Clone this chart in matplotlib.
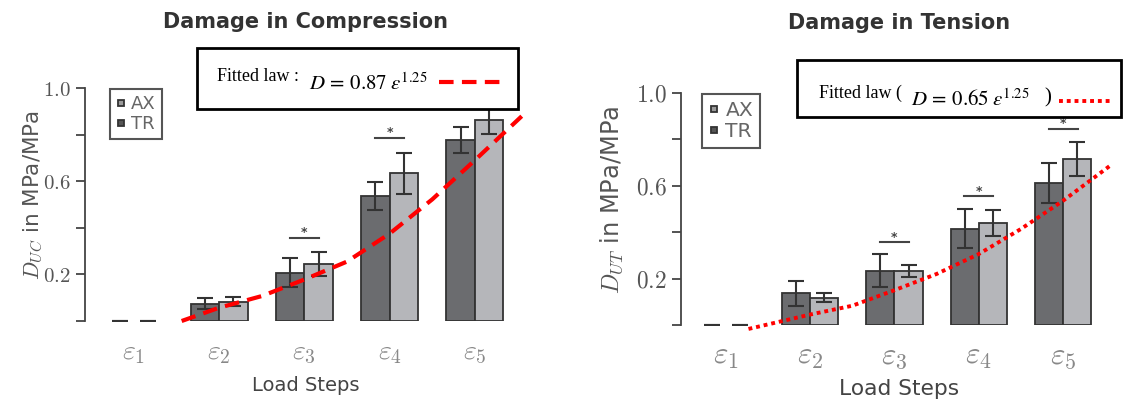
import matplotlib
matplotlib.use('Agg')
import matplotlib.pyplot as plt
from matplotlib.lines import Line2D
from matplotlib.patches import Rectangle

plt.rcParams['mathtext.fontset'] = 'cm'
plt.rcParams['font.family'] = 'DejaVu Sans'

# load steps and series
steps = [r'$\varepsilon_1$', r'$\varepsilon_2$', r'$\varepsilon_3$', r'$\varepsilon_4$', r'$\varepsilon_5$']
step_pos = [0, 1, 2, 3, 4]

comp_ax = [0.0, 0.075, 0.208, 0.537, 0.778]
comp_ax_err = [0.0, 0.025, 0.063, 0.061, 0.056]
comp_tr = [0.0, 0.083, 0.244, 0.635, 0.862]
comp_tr_err = [0.0, 0.020, 0.053, 0.088, 0.060]
comp_sig_steps = [2, 3, 4]
comp_sig_y = [0.358, 0.785, 0.960]
comp_fit_x = [0.56, 1.0, 1.5, 2.0, 2.5, 3.0, 3.5, 4.0, 4.55]
comp_fit_y = [0.0, 0.057, 0.107, 0.178, 0.255, 0.375, 0.522, 0.690, 0.879]

tens_ax = [0.0, 0.136, 0.234, 0.415, 0.613]
tens_ax_err = [0.0, 0.054, 0.070, 0.085, 0.086]
tens_tr = [0.0, 0.118, 0.234, 0.440, 0.716]
tens_tr_err = [0.0, 0.019, 0.026, 0.055, 0.072]
tens_sig_steps = [2, 3, 4]
tens_sig_y = [0.356, 0.555, 0.845]
tens_fit_x = [0.27, 1.0, 1.5, 2.0, 2.5, 3.0, 3.5, 4.0, 4.58]
tens_fit_y = [-0.017, 0.045, 0.083, 0.150, 0.220, 0.306, 0.414, 0.536, 0.693]

yticks = [0.0, 0.2, 0.4, 0.6, 0.8, 1.0]
ytick_labels = ['', '$0.2$', '', '$0.6$', '', '$1.0$']

AX_COL = '#6b6c6f'
TR_COL = '#b5b6ba'
W = 0.335


def panel(ax, title, title_y, ylab, ylab_x, vals_ax, err_ax, vals_tr, err_tr,
          sig_steps, sig_y, fit_x, fit_y, fit_style, fs):
    for vals, errs, off, col in ((vals_ax, err_ax, -W / 2, AX_COL),
                                 (vals_tr, err_tr, W / 2, TR_COL)):
        pos = [s + off for s in step_pos]
        lws = [1.3 if v > 0 else 0 for v in vals]
        ax.bar(pos, vals, W, color=col, edgecolor='#333333', linewidth=lws, zorder=2)
        ax.errorbar(pos, vals, yerr=errs, fmt='none', ecolor='#333333',
                    elinewidth=1.5, capsize=5.5, capthick=1.5, zorder=3)

    # significance marks
    for s, y in zip(sig_steps, sig_y):
        ax.plot([s - 0.17, s + 0.17], [y, y], color='#444444', lw=1.5, zorder=3)
        ax.text(s, y + 0.022, '*', ha='center', va='center', fontsize=9,
                color='#444444', fontweight='bold', zorder=3)

    ax.plot(fit_x, fit_y, color='red', zorder=4, clip_on=False, **fit_style)

    ax.set_ylim(0, 1.0)
    ax.set_yticks(yticks)
    ax.set_yticklabels(ytick_labels, fontsize=15 * fs, color='#555555')
    ax.set_xticks(step_pos)
    ax.set_xticklabels(steps, fontsize=20 * fs, color='#888888')
    ax.tick_params(axis='x', length=0, pad=12)
    ax.tick_params(axis='y', length=6.5, width=1.3, color='#444444', pad=4)
    for side in ('top', 'right', 'bottom'):
        ax.spines[side].set_visible(False)
    ax.spines['left'].set_linewidth(1.3)
    ax.spines['left'].set_color('#444444')

    # y runs 0..1 so axes fraction equals data value
    ax.text(0.5, title_y, title, transform=ax.transAxes, ha='center',
            va='center', fontsize=15, fontweight='bold', color='#333333')
    ax.text(0.5, -0.275, 'Load Steps', transform=ax.transAxes, ha='center',
            va='center', fontsize=14 * fs, color='#444444')
    ax.text(ylab_x, 0.54, ylab, transform=ax.transAxes, rotation=90, ha='center',
            va='center', fontsize=15.5 * fs, color='#555555')

    handles = [Line2D([], [], ls='none', marker='s', ms=5, mfc='#9a9a9a', mec='#333333',
                      mew=1.3, label='AX'),
               Line2D([], [], ls='none', marker='s', ms=5, mfc='#555555', mec='#333333',
                      mew=1.3, label='TR')]
    xl = ax.get_xlim()
    lx = (-0.28 - xl[0]) / (xl[1] - xl[0])
    leg = ax.legend(handles=handles, loc='upper left', bbox_to_anchor=(lx, 0.997),
                    fancybox=False, edgecolor='#555555', fontsize=13 * fs,
                    labelcolor='#666666', handlelength=0.5, handletextpad=0.3,
                    borderpad=0.35, labelspacing=0.1, borderaxespad=0,
                    framealpha=1)
    leg.get_frame().set_linewidth(1.5)


fig = plt.figure(figsize=(11.37, 4.09), dpi=100)

ax1 = fig.add_axes([85 / 1137, 88 / 409, 441 / 1137, 233 / 409])
ax1.set_xlim(-0.574, 4.6)
panel(ax1, 'Damage in Compression', 1.285,
      r'$D_{UC}$ in MPa/MPa', -0.118,
      comp_ax, comp_ax_err, comp_tr, comp_tr_err,
      comp_sig_steps, comp_sig_y, comp_fit_x, comp_fit_y,
      dict(lw=3, linestyle=(0, (3.5, 2))), 1.0)
ax1.add_patch(Rectangle((0.74, 0.912), 4.51 - 0.74, 1.171 - 0.912, clip_on=False,
                        facecolor='white', edgecolor='black', lw=2, zorder=5))
ax1.text(0.98, 1.05, 'Fitted law :', fontfamily='Liberation Serif', fontsize=13,
         ha='left', va='center', zorder=6)
ax1.text(2.05, 1.02, r'$D\,=\,0.87\;\varepsilon^{1.25}$', math_fontfamily='stix',
         fontsize=15, ha='left', va='center', zorder=6)
ax1.plot([3.58, 4.38], [1.024, 1.024], color='red', lw=3, linestyle=(0, (3.5, 2)),
         clip_on=False, zorder=6)

ax2 = fig.add_axes([681 / 1137, 84 / 409, 437 / 1137, 232 / 409])
ax2.set_xlim(-0.53, 4.65)
panel(ax2, 'Damage in Tension', 1.30,
      r'$D_{UT}$ in MPa/MPa', -0.158,
      tens_ax, tens_ax_err, tens_tr, tens_tr_err,
      tens_sig_steps, tens_sig_y, tens_fit_x, tens_fit_y,
      dict(lw=2.8, linestyle=(0, (1, 1))), 1.12)
ax2.add_patch(Rectangle((0.85, 0.895), 4.69 - 0.85, 1.143 - 0.895, clip_on=False,
                        facecolor='white', edgecolor='black', lw=2, zorder=5))
ax2.text(1.11, 1.0, 'Fitted law (', fontfamily='Liberation Serif', fontsize=13,
         ha='left', va='center', zorder=6)
ax2.text(2.2, 0.972, r'$D\,=\,0.65\;\varepsilon^{1.25}$', math_fontfamily='stix',
         fontsize=15, ha='left', va='center', zorder=6)
ax2.text(3.78, 0.98, ')', fontfamily='Liberation Serif', fontsize=15,
         ha='left', va='center', zorder=6)
ax2.plot([3.95, 4.58], [0.967, 0.967], color='red', lw=2.8, linestyle=(0, (1, 1)),
         clip_on=False, zorder=6)

fig.savefig('out.png', dpi=100)
